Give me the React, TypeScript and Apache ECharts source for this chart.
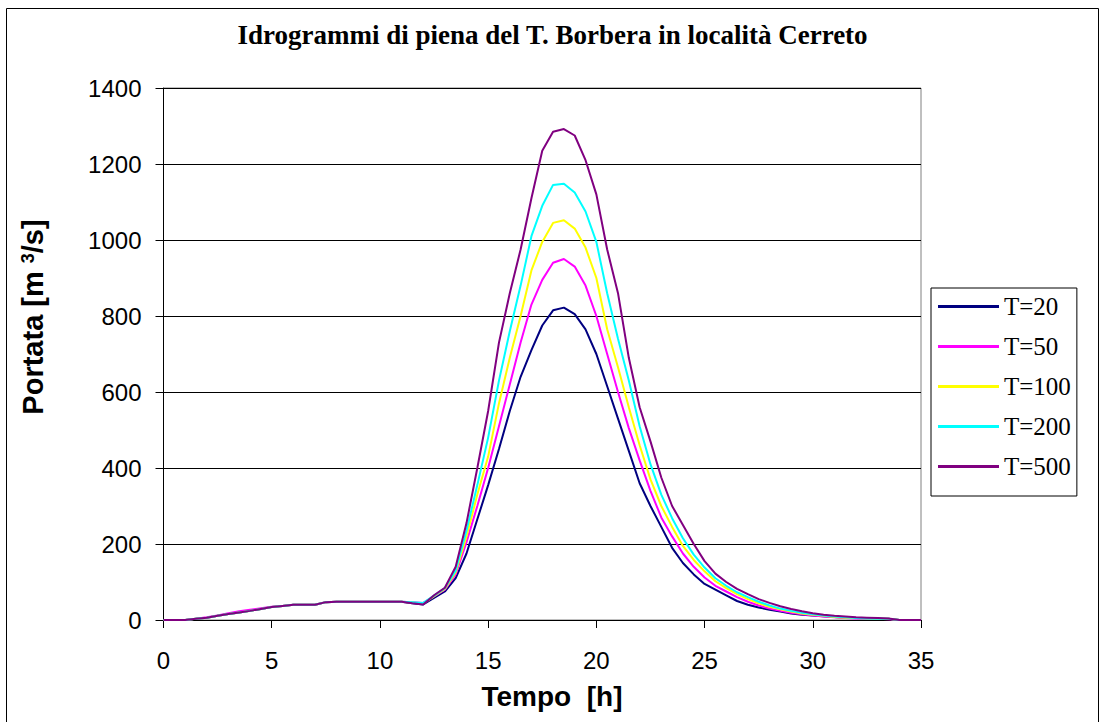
import React, { useEffect, useRef } from "react";
import * as echarts from "echarts";

const times = [
  0, 0.5, 1, 1.5, 2, 2.5, 3, 3.5, 4, 4.5, 5, 5.5, 6, 6.5, 7, 7.5, 8, 8.5, 9, 9.5,
  10, 10.5, 11, 11.5, 12, 12.5, 13, 13.5, 14, 14.5, 15, 15.5, 16, 16.5, 17, 17.5,
  18, 18.5, 19, 19.5, 20, 20.5, 21, 21.5, 22, 22.5, 23, 23.5, 24, 24.5, 25, 25.5,
  26, 26.5, 27, 27.5, 28, 28.5, 29, 29.5, 30, 30.5, 31, 31.5, 32, 32.5, 33, 33.5,
  34, 34.5, 35,
];

const t20 = [
  0, 0, 0, 3, 6, 11, 16, 20, 24, 29, 34, 37, 40, 40, 40, 47, 48, 48, 48, 48, 48, 48, 48, 44, 41,
  58, 75, 110, 175, 265, 355, 450, 550, 640, 710,
  775, 815, 822, 805, 765, 700, 615, 530, 445, 360,
  300, 245, 190, 150, 120, 95, 80, 65, 50, 40,
  33, 27, 22, 17, 14, 12, 10, 8, 6, 5,
  4, 3, 3, 0, 0, 0,
];

const t50 = [
  0, 0, 0, 3, 7, 12, 18, 23, 27, 31, 35, 37, 40, 40, 40, 47, 48, 48, 48, 48, 48, 48, 48, 47, 45,
  62, 80, 120, 205, 300, 400, 510, 620, 730, 830,
  895, 940, 950, 930, 880, 800, 700, 600, 505, 420,
  340, 270, 220, 175, 140, 112, 90, 75, 60, 48,
  38, 30, 24, 19, 15, 12, 9, 7, 5, 4,
  3, 3, 2, 0, 0, 0,
];

const t100 = [
  0, 0, 0, 3, 6, 11, 16, 20, 24, 29, 34, 37, 40, 40, 40, 47, 48, 48, 48, 48, 48, 48, 48, 46, 43,
  63, 82, 125, 220, 330, 430, 570, 690, 800, 920,
  995, 1045, 1052, 1030, 980, 900, 765, 665, 560, 460,
  370, 300, 245, 195, 158, 128, 102, 84, 68, 55,
  44, 35, 28, 22, 17, 14, 11, 8, 6, 5,
  4, 3, 3, 0, 0, 0,
];

const t200 = [
  0, 0, 0, 3, 6, 11, 16, 20, 24, 29, 34, 37, 40, 40, 40, 47, 48, 48, 48, 48, 48, 48, 48, 47, 45,
  64, 84, 130, 235, 355, 480, 630, 760, 880, 1010,
  1090, 1145, 1148, 1125, 1075, 995, 860, 740, 630, 510,
  410, 330, 268, 215, 172, 138, 110, 90, 73, 60,
  48, 38, 30, 24, 19, 15, 12, 9, 7, 5,
  4, 3, 3, 0, 0, 0,
];

const t500 = [
  0, 0, 0, 3, 6, 11, 16, 20, 24, 29, 34, 37, 40, 40, 40, 47, 48, 48, 48, 48, 48, 48, 48, 44, 41,
  65, 85, 140, 255, 400, 550, 730, 860, 975, 1110,
  1235, 1285, 1292, 1275, 1210, 1120, 975, 860, 690, 560,
  470, 375, 300, 250, 200, 155, 122, 100, 82, 68,
  55, 45, 36, 29, 23, 18, 14, 11, 9, 7,
  6, 5, 4, 0, 0, 0,
];

const seriesNames = ["T=20", "T=50", "T=100", "T=200", "T=500"];
const seriesValues = [t20, t50, t100, t200, t500];
const seriesColors = ["#000080", "#FF00FF", "#FFFF00", "#00FFFF", "#800080"];

const xTicks = { min: 0, max: 35, interval: 5 };
const yTicks = { min: 0, max: 1400, interval: 200 };

const titleText = "Idrogrammi di piena del T. Borbera in località Cerreto";
const xName = "Tempo  [h]";

export default function App() {
  const ref = useRef<HTMLDivElement>(null);

  useEffect(() => {
    document.body.style.margin = "0";
    if (!ref.current) return;
    const chart = echarts.init(ref.current, null, { renderer: "svg" });
    const sans = "Liberation Sans, Arial, sans-serif";
    const serif = "Liberation Serif, Times New Roman, serif";

    chart.setOption({
      animation: false,
      backgroundColor: "#ffffff",
      title: {
        text: titleText,
        left: "center",
        top: 21,
        padding: 0,
        textStyle: {
          fontFamily: serif,
          fontWeight: "bold",
          fontSize: 27,
          color: "#000",
        },
      },
      grid: {
        left: 163.5,
        top: 88,
        right: 184,
        bottom: 102,
        show: true,
        borderColor: "#808080",
        borderWidth: 1,
        backgroundColor: "#ffffff",
      },
      legend: {
        orient: "vertical",
        left: 931,
        top: 288,
        padding: [6, 6, 17, 7],
        icon: "rect",
        itemWidth: 61,
        itemHeight: 3,
        itemGap: 15,
        backgroundColor: "#ffffff",
        borderColor: "#000000",
        borderWidth: 1,
        borderRadius: 0,
        textStyle: { fontFamily: serif, fontSize: 25, color: "#000" },
        data: seriesNames,
      },
      xAxis: {
        type: "value",
        min: xTicks.min,
        max: xTicks.max,
        interval: xTicks.interval,
        axisLine: { show: true, lineStyle: { color: "#000", width: 1 } },
        axisTick: { show: true, inside: false, length: 8, lineStyle: { color: "#000" } },
        axisLabel: { margin: 28, fontFamily: sans, fontSize: 24, color: "#000" },
        splitLine: { show: false },
      },
      yAxis: {
        type: "value",
        min: yTicks.min,
        max: yTicks.max,
        interval: yTicks.interval,
        axisLine: { show: true, lineStyle: { color: "#000", width: 1 } },
        axisTick: { show: true, inside: false, length: 8, lineStyle: { color: "#000" } },
        axisLabel: {
          margin: 22,
          fontFamily: sans,
          fontSize: 24,
          color: "#000",
          formatter: (v: number) => String(v),
        },
        splitLine: { show: true, lineStyle: { color: "#000", width: 1 } },
      },
      graphic: [
        {
          type: "rect",
          silent: true,
          z: -10,
          shape: { x: 6.5, y: 8.5, width: 1092, height: 720 },
          style: { fill: "none", stroke: "#000", lineWidth: 1 },
        },
        {
          type: "text",
          x: 552,
          y: 696,
          style: {
            text: xName,
            fontFamily: sans,
            fontWeight: "bold",
            fontSize: 28,
            fill: "#000",
            align: "center",
            verticalAlign: "middle",
          },
        },
        {
          type: "text",
          x: 33,
          y: 317,
          rotation: Math.PI / 2,
          style: {
            text: "{a|Portata [m }{s|3}{a|/s]}",
            align: "center",
            verticalAlign: "middle",
            fill: "#000",
            rich: {
              a: { fontFamily: sans, fontWeight: "bold", fontSize: 29, fill: "#000" },
              s: {
                fontFamily: sans,
                fontWeight: "bold",
                fontSize: 18,
                fill: "#000",
                verticalAlign: "top",
                padding: [0, 0, 10, 0],
              },
            },
          },
        },
      ],
      series: seriesNames.map((name, k) => ({
        name,
        type: "line",
        symbol: "none",
        color: seriesColors[k],
        lineStyle: { color: seriesColors[k], width: 2 },
        data: times.map((t, i) => [t, seriesValues[k][i]]),
      })),
    });

    return () => chart.dispose();
  }, []);

  return <div ref={ref} style={{ width: 1105, height: 722 }} />;
}
